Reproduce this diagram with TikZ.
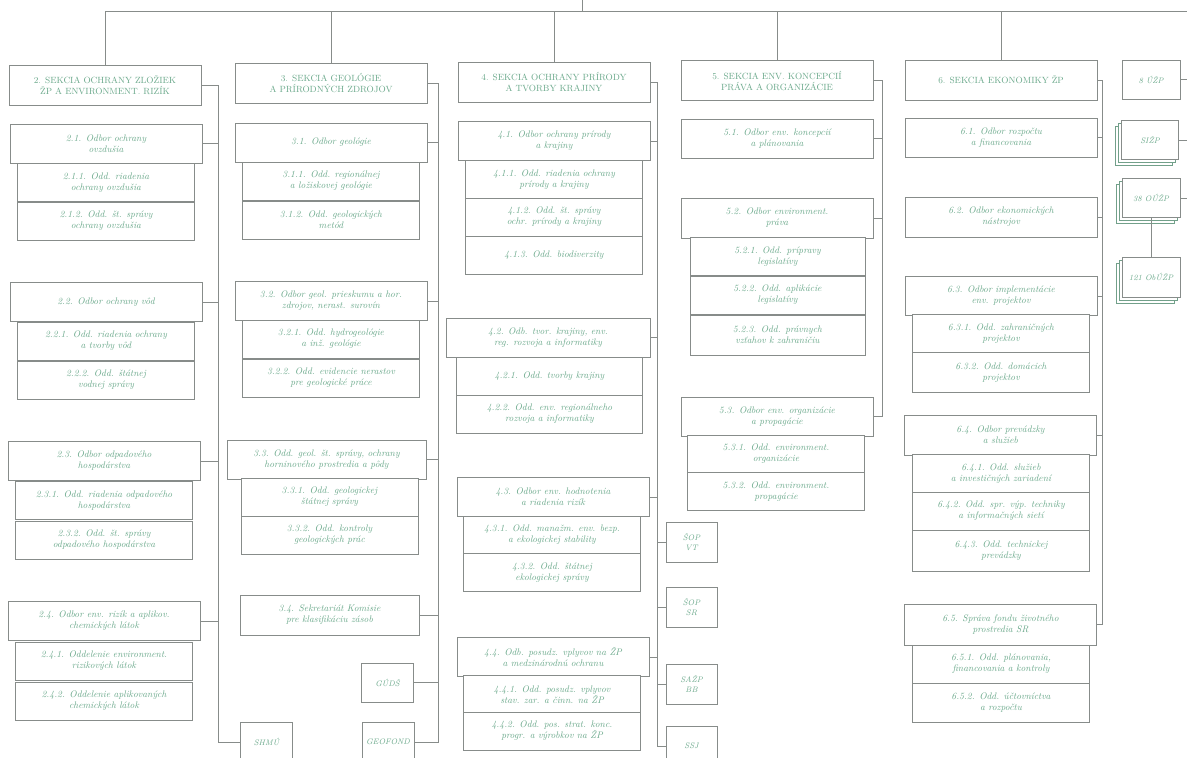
\documentclass[tikz,border=0pt]{standalone}
\usepackage{tikz}
\usetikzlibrary{shadows}

\definecolor{linec}{RGB}{135,140,138}
\definecolor{txtc}{RGB}{105,168,138}

\tikzset{
  unit/.style={draw=linec, fill=white, text=txtc, align=center, inner sep=1pt, line width=0.8pt},
  sekcia/.style={unit, minimum width=192pt, minimum height=40pt, font=\fontsize{9}{11}\selectfont},
  odbor/.style={unit, minimum width=192pt, minimum height=39pt, font=\fontsize{9.5}{11}\selectfont\itshape},
  odd/.style={unit, minimum width=177pt, minimum height=38pt, font=\fontsize{9.5}{11}\selectfont\itshape},
  org/.style={unit, minimum width=52pt, minimum height=40pt, font=\fontsize{8}{10}\selectfont\itshape},
  stack/.style={org, minimum width=57pt, minimum height=39pt,
    double copy shadow={shadow xshift=-3pt, shadow yshift=-3pt, draw=txtc!70!linec}},
  link/.style={draw=linec, line width=0.8pt}
}

\begin{document}
\begin{tikzpicture}[x=1pt,y=-1pt]

\path[use as bounding box, fill=white] (0,0) rectangle (1187,758);

\coordinate (minister) at (582,0);
\coordinate (edge) at (1187,11);
\coordinate (bus2) at (218,0);
\coordinate (bus3) at (438,0);
\coordinate (bus4) at (657,0);
\coordinate (bus5) at (882,0);
\coordinate (bus6) at (1102,0);

% sekcia 2
\node[sekcia] (s2) at (105,85) {2. SEKCIA OCHRANY ZLOŽIEK\\ŽP A ENVIRONMENT. RIZÍK};
\node[odbor] (n21) at (106,143.5) {2.1. Odbor ochrany\\ovzdušia};
\node[odd] (n211) at (106,182.5) {2.1.1. Odd. riadenia\\ochrany ovzdušia};
\node[odd] (n212) at (106,221) {2.1.2. Odd. št. správy\\ochrany ovzdušia};
\node[odbor] (n22) at (106,302) {2.2. Odbor ochrany vôd};
\node[odd] (n221) at (106,341) {2.2.1. Odd. riadenia ochrany\\a tvorby vôd};
\node[odd] (n222) at (106,380) {2.2.2. Odd. štátnej\\vodnej správy};
\node[odbor] (n23) at (104,461) {2.3. Odbor odpadového\\hospodárstva};
\node[odd] (n231) at (104,500.5) {2.3.1. Odd. riadenia odpadového\\hospodárstva};
\node[odd] (n232) at (104,540) {2.3.2. Odd. št. správy\\odpadového hospodárstva};
\node[odbor] (n24) at (104,621) {2.4. Odbor env. rizík a aplikov.\\chemických látok};
\node[odd] (n241) at (104,661) {2.4.1. Oddelenie environment.\\rizikových látok};
\node[odd] (n242) at (104,701) {2.4.2. Oddelenie aplikovaných\\chemických látok};
\node[org] (shmu) at (266.5,742) {SHMÚ};

% sekcia 3
\node[sekcia] (s3) at (331,83) {3. SEKCIA GEOLÓGIE\\A PRÍRODNÝCH ZDROJOV};
\node[odbor] (n31) at (331,142.5) {3.1. Odbor geológie};
\node[odd] (n311) at (331,181) {3.1.1. Odd. regionálnej\\a ložiskovej geológie};
\node[odd] (n312) at (331,220) {3.1.2. Odd. geologických\\metód};
\node[odbor] (n32) at (331,301) {3.2. Odbor geol. prieskumu a hor.\\zdrojov, nerast. surovín};
\node[odd] (n321) at (331,339) {3.2.1. Odd. hydrogeológie\\a inž. geológie};
\node[odd] (n322) at (331,378) {3.2.2. Odd. evidencie nerastov\\pre geologické práce};
\node[odbor, minimum width=199pt] (n33) at (326.5,459.5) {3.3. Odd. geol. št. správy, ochrany\\horninového prostredia a pôdy};
\node[odd] (n331) at (329.5,497) {3.3.1. Odd. geologickej\\štátnej správy};
\node[odd] (n332) at (329.5,535) {3.3.2. Odd. kontroly\\geologických prác};
\node[odd, minimum width=179pt, minimum height=40pt] (n34) at (329.5,615) {3.4. Sekretariát Komisie\\pre klasifikáciu zásob};
\node[org, minimum height=39pt] (gudsh) at (387.5,682.5) {GÚDŠ};
\node[org] (geof) at (388,742) {GEOFOND};

% sekcia 4
\node[sekcia] (s4) at (554,82) {4. SEKCIA OCHRANY PRÍRODY\\A TVORBY KRAJINY};
\node[odbor] (n41) at (554,141) {4.1. Odbor ochrany prírody\\a krajiny};
\node[odd] (n411) at (554,179.5) {4.1.1. Odd. riadenia ochrany\\prírody a krajiny};
\node[odd] (n412) at (554,217) {4.1.2. Odd. št. správy\\ochr. prírody a krajiny};
\node[odd] (n413) at (554,255.5) {4.1.3. Odd. biodiverzity};
\node[odbor, minimum width=204pt] (n42) at (548,337.5) {4.2. Odb. tvor. krajiny, env.\\reg. rozvoja a informatiky};
\node[odd, minimum width=186pt] (n421) at (549.5,376) {4.2.1. Odd. tvorby krajiny};
\node[odd, minimum width=186pt] (n422) at (549.5,414) {4.2.2. Odd. env. regionálneho\\rozvoja a informatiky};
\node[odbor] (n43) at (553,497) {4.3. Odbor env. hodnotenia\\a riadenia rizík};
\node[odd] (n431) at (552,535) {4.3.1. Odd. manažm. env. bezp.\\a ekologickej stability};
\node[odd] (n432) at (552,572.5) {4.3.2. Odd. štátnej\\ekologickej správy};
\node[odbor] (n44) at (553,657) {4.4. Odb. posudz. vplyvov na ŽP\\a medzinárodnú ochranu};
\node[odd] (n441) at (552,694.5) {4.4.1. Odd. posudz. vplyvov\\stav. zar. a činn. na ŽP};
\node[odd] (n442) at (552,731) {4.4.2. Odd. pos. strat. konc.\\progr. a výrobkov na ŽP};
\node[org, minimum width=51pt] (o1) at (691.5,542) {ŠOP\\VT};
\node[org, minimum width=51pt] (o2) at (691.5,607) {ŠOP\\SR};
\node[org, minimum width=51pt] (o3) at (691.5,684) {SAŽP\\BB};
\node[org, minimum width=51pt] (o4) at (691.5,746) {SSJ};

% sekcia 5
\node[sekcia] (s5) at (777,80.5) {5. SEKCIA ENV. KONCEPCIÍ\\PRÁVA A ORGANIZÁCIE};
\node[odbor] (n51) at (777,138.5) {5.1. Odbor env. koncepcií\\a plánovania};
\node[odbor, minimum height=40pt] (n52) at (777,218) {5.2. Odbor environment.\\práva};
\node[odd, minimum width=175pt] (n521) at (777.5,256.5) {5.2.1. Odd. prípravy\\legislatívy};
\node[odd, minimum width=175pt] (n522) at (777.5,295) {5.2.2. Odd. aplikácie\\legislatívy};
\node[odd, minimum width=175pt, minimum height=40pt] (n523) at (777.5,335) {5.2.3. Odd. právnych\\vzťahov k zahraničiu};
\node[odbor] (n53) at (777,416.5) {5.3. Odbor env. organizácie\\a propagácie};
\node[odd] (n531) at (776,454) {5.3.1. Odd. environment.\\organizácie};
\node[odd] (n532) at (776,491.5) {5.3.2. Odd. environment.\\propagácie};

% sekcia 6
\node[sekcia] (s6) at (1001,80) {6. SEKCIA EKONOMIKY ŽP};
\node[odbor] (n61) at (1001,137.5) {6.1. Odbor rozpočtu\\a financovania};
\node[odbor, minimum height=40pt] (n62) at (1001,217) {6.2. Odbor ekonomických\\nástrojov};
\node[odbor] (n63) at (1001,296) {6.3. Odbor implementácie\\env. projektov};
\node[odd] (n631) at (1001,333.5) {6.3.1. Odd. zahraničných\\projektov};
\node[odd, minimum height=40pt] (n632) at (1001,372.5) {6.3.2. Odd. domácich\\projektov};
\node[odbor, minimum height=40pt] (n64) at (1000.5,435) {6.4. Odbor prevádzky\\a služieb};
\node[odd] (n641) at (1001,473.5) {6.4.1. Odd. služieb\\a investičných zariadení};
\node[odd] (n642) at (1001,511) {6.4.2. Odd. spr. výp. techniky\\a informačných sietí};
\node[odd, minimum height=41pt] (n643) at (1001,550.5) {6.4.3. Odd. technickej\\prevádzky};
\node[odbor, minimum height=41pt] (n65) at (1000.5,624.5) {6.5. Správa fondu životného\\prostredia SR};
\node[odd] (n651) at (1001,664) {6.5.1. Odd. plánovania,\\financovania a kontroly};
\node[odd, minimum height=39pt] (n652) at (1001,702.5) {6.5.2. Odd. účtovníctva\\a rozpočtu};

% urady
\node[org, minimum width=58pt, minimum height=39pt] (r1) at (1151,79.5) {8 ÚŽP};
\node[stack] (r2) at (1150,140) {SIŽP};
\node[stack, minimum width=58pt] (r3) at (1151,198) {38 OÚŽP};
\node[stack, minimum width=58pt, minimum height=40pt] (r4) at (1151,277) {121 ObÚŽP};

% spojnice
\draw[link] (minister) -- (minister |- edge);
\draw[link] (s2.north) |- (edge);
\foreach \s in {s3,s4,s5,s6}
  \draw[link] (\s.north) -- (\s.north |- edge);

\draw[link] (s2.east) -- (s2.east -| bus2) -- (shmu.west -| bus2) -- (shmu.west);
\foreach \n in {n21,n22,n23,n24}
  \draw[link] (\n.east) -- (\n.east -| bus2);

\draw[link] (s3.east) -- (s3.east -| bus3) -- (geof.east -| bus3) -- (geof.east);
\foreach \n in {n31,n32,n33,n34,gudsh}
  \draw[link] (\n.east) -- (\n.east -| bus3);

\draw[link] (s4.east) -- (s4.east -| bus4) -- (o4.west -| bus4) -- (o4.west);
\foreach \n in {n41,n42,n43,n44}
  \draw[link] (\n.east) -- (\n.east -| bus4);
\foreach \n in {o1,o2,o3}
  \draw[link] (\n.west) -- (\n.west -| bus4);

\draw[link] (s5.east) -- (s5.east -| bus5) -- (n53.east -| bus5) -- (n53.east);
\foreach \n in {n51,n52}
  \draw[link] (\n.east) -- (\n.east -| bus5);

\draw[link] (s6.east) -- (s6.east -| bus6) -- (n65.east -| bus6) -- (n65.east);
\foreach \n in {n61,n62,n63,n64}
  \draw[link] (\n.east) -- (\n.east -| bus6);

\foreach \n in {r1,r2,r3}
  \draw[link] (\n.east) -- (\n.east -| edge);
\draw[link] (r3.south) -- (r4.north);

\end{tikzpicture}
\end{document}
